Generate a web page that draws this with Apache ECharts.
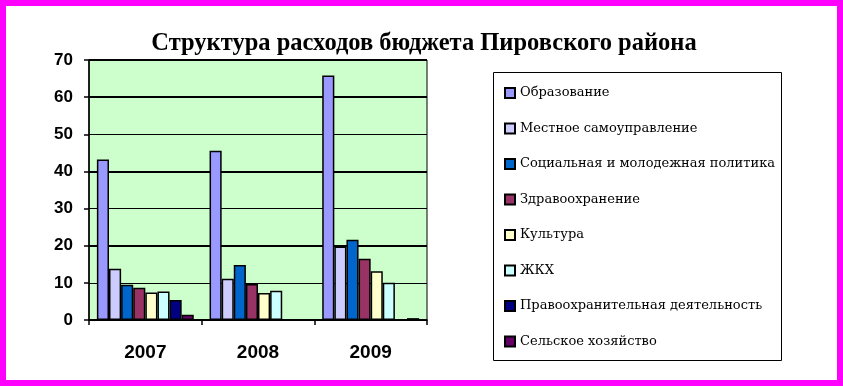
<!DOCTYPE html>
<html>
<head>
<meta charset="utf-8">
<script src="https://cdn.jsdelivr.net/npm/echarts@6/dist/echarts.min.js"></script>
<style>
html,body{margin:0;padding:0;background:#fff;}
#main{width:843px;height:386px;}
</style>
</head>
<body>
<div id="main"></div>
<script>
const title = 'Структура расходов бюджета Пировского района';
const categories = ['2007', '2008', '2009'];
const seriesNames = [
  'Образование',
  'Местное самоуправление',
  'Социальная и молодежная политика',
  'Здравоохранение',
  'Культура',
  'ЖКХ',
  'Правоохранительная деятельность',
  'Сельское хозяйство'
];
const obrazovanie = [43.2, 45.6, 65.8];
const mestnoe = [13.8, 11.1, 19.8];
const socialnaya = [9.5, 14.8, 21.6];
const zdravoohr = [8.7, 9.7, 16.5];
const kultura = [7.4, 7.3, 13.1];
const zhkh = [7.7, 7.9, 10.0];
const pravoohr = [5.4, 0, 0];
const selskoe = [1.4, 0, 0.5];
const yTicks = [0, 10, 20, 30, 40, 50, 60, 70];

const values = [obrazovanie, mestnoe, socialnaya, zdravoohr, kultura, zhkh, pravoohr, selskoe];
const colors = ['#9999FF', '#CCCCFF', '#0066CC', '#993366', '#FFFFCC', '#CCFFFF', '#000080', '#660066'];

const chart = echarts.init(document.getElementById('main'), null, {renderer: 'canvas'});
const series = seriesNames.map((name, i) => ({
  name: name,
  type: 'bar',
  data: values[i],
  yAxisIndex: 0,
  barGap: '0%',
  barCategoryGap: '14%',
  itemStyle: {color: colors[i], borderColor: '#000', borderWidth: 1.5},
  emphasis: {disabled: true},
  animation: false
}));

chart.setOption({
  animation: false,
  backgroundColor: '#fff',
  title: {
    text: title,
    left: 419,
    textAlign: 'center',
    top: 26,
    textStyle: {fontFamily: '"Liberation Serif", "Times New Roman", serif', fontSize: 24.5, fontWeight: 'bold', color: '#000'}
  },
  grid: {
    left: 89, right: 416, top: 60, bottom: 66,
    show: true, backgroundColor: '#CCFFCC', borderColor: '#000', borderWidth: 1
  },
  legend: {
    orient: 'vertical',
    left: 499,
    top: 81,
    itemWidth: 10,
    itemHeight: 10,
    itemGap: 21.5,
    icon: 'rect',
    selectedMode: false,
    data: seriesNames,
    textStyle: {fontFamily: '"DejaVu Serif", serif', fontSize: 13, color: '#000', lineHeight: 14}
  },
  xAxis: {
    type: 'category',
    data: categories,
    axisLine: {lineStyle: {color: '#000', width: 1.5}},
    axisTick: {show: true, inside: false, length: 5, interval: 0, lineStyle: {color: '#000', width: 1.5}},
    axisLabel: {fontFamily: 'Arial, "Liberation Sans", sans-serif', fontWeight: 'bold', fontSize: 19, color: '#000', margin: 23}
  },
  yAxis: [{
    type: 'value',
    min: yTicks[0], max: yTicks[yTicks.length - 1], interval: 10,
    axisLine: {show: true, lineStyle: {color: '#000', width: 1.5}},
    axisTick: {show: true, inside: false, length: 5, lineStyle: {color: '#000', width: 1.5}},
    axisLabel: {fontFamily: 'Arial, "Liberation Sans", sans-serif', fontWeight: 'bold', fontSize: 17, color: '#000', margin: 16},
    splitLine: {show: true, lineStyle: {color: '#000', width: 1}}
  }, {
    type: 'value',
    position: 'left',
    min: 0, max: 70, interval: 20,
    axisLine: {show: false}, axisTick: {show: false}, axisLabel: {show: false},
    splitLine: {show: true, lineStyle: {color: '#000', width: 2}}
  }],
  series: series,
  graphic: [
    {type: 'rect', z: 100, silent: true,
     shape: {x: 493.5, y: 72.5, width: 288, height: 288},
     style: {fill: 'none', stroke: '#000', lineWidth: 1}},
    {type: 'rect', z: 100, silent: true,
     shape: {x: 3, y: 3, width: 837, height: 380},
     style: {fill: 'none', stroke: '#FF00FF', lineWidth: 6}}
  ]
});
</script>
</body>
</html>
